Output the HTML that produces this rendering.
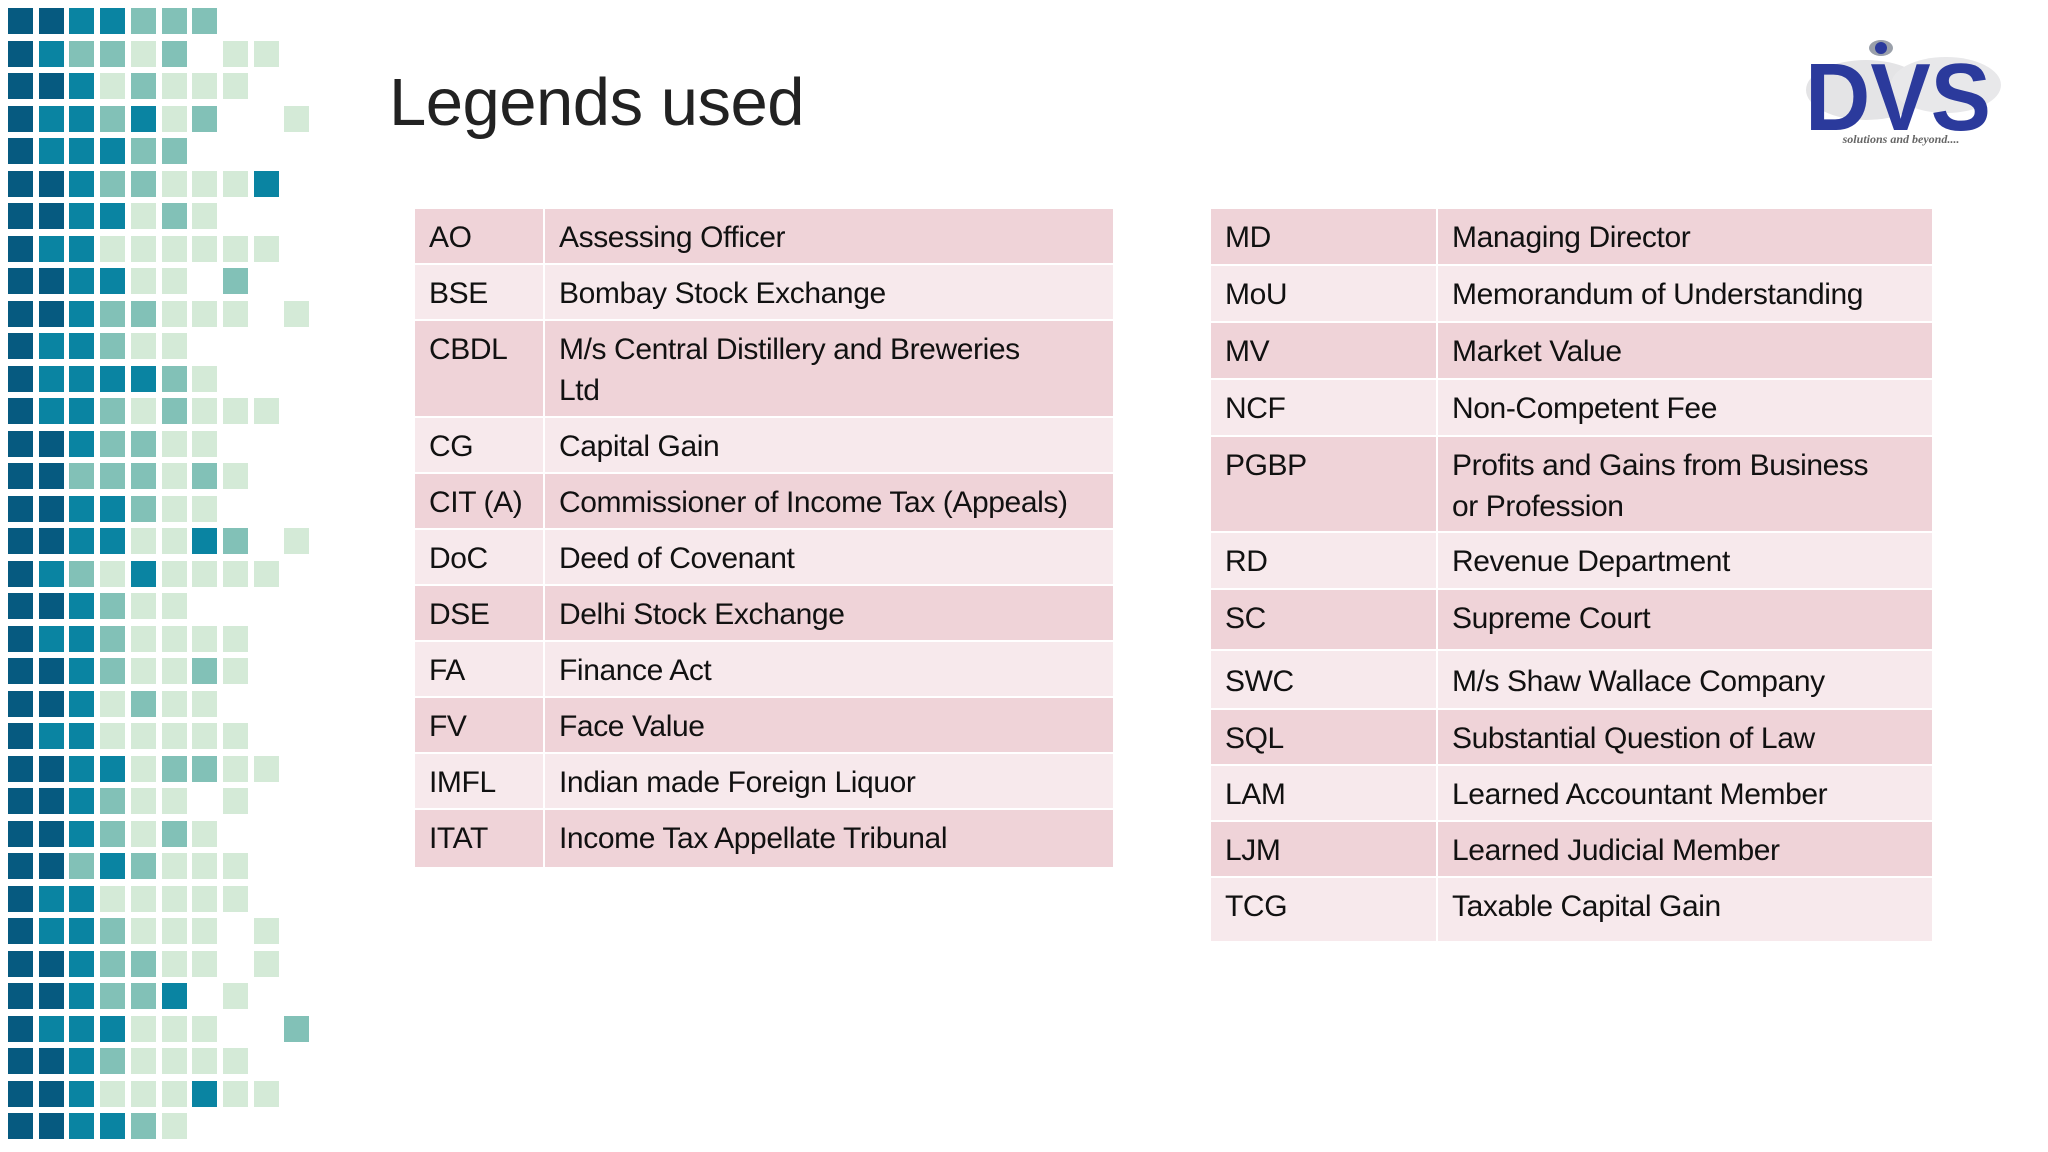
<!DOCTYPE html>
<html><head><meta charset="utf-8">
<style>
body{margin:0;width:2048px;height:1152px;background:#fff;position:relative;overflow:hidden;font-family:"Liberation Sans",sans-serif;}
#mosaic{position:absolute;left:0;top:0;width:330px;height:1152px;}
.cell{position:absolute;width:25px;height:26px;}
h1{position:absolute;left:389px;top:70px;margin:0;font-weight:normal;font-size:67px;line-height:66px;color:#222;letter-spacing:-0.5px;}
.tbl{position:absolute;top:209px;}
.row{display:flex;border-bottom:2px solid #fff;box-sizing:border-box;}
.row:nth-child(odd){background:#efd3d8;}
.row:nth-child(even){background:#f7e9ec;}
.c1,.c2{box-sizing:border-box;padding:8px 0 0 14px;font-size:30px;line-height:41px;color:#111;letter-spacing:-0.4px;}
.c1{border-right:2px solid #fff;}
#logo{position:absolute;left:1786px;top:30px;width:230px;height:120px;}
</style></head>
<body>
<div id="mosaic"></div>
<h1>Legends used</h1>

<div id="logo">
<svg width="230" height="120" viewBox="0 0 230 120">
<ellipse cx="80" cy="60" rx="60" ry="30" fill="#e4e4e6"/>
<ellipse cx="160" cy="55" rx="55" ry="28" fill="#e8e8ea"/>
<ellipse cx="95" cy="18" rx="12" ry="8" fill="#9aa0aa"/>
<ellipse cx="95" cy="18" rx="6" ry="6" fill="#2b3a9c"/>
<text x="112" y="100" text-anchor="middle" font-family="Liberation Sans" font-weight="bold" font-size="96" fill="#2b3a9c" textLength="186" lengthAdjust="spacingAndGlyphs">DVS</text>
<text x="115" y="113" text-anchor="middle" font-family="Liberation Serif" font-style="italic" font-weight="bold" font-size="12" fill="#666">solutions and beyond....</text>
</svg>
</div>

<div class="tbl" style="left:415px;width:698px;">
<div class="row" style="height:56px"><div class="c1" style="width:130px">AO</div><div class="c2">Assessing Officer</div></div>
<div class="row" style="height:56px"><div class="c1" style="width:130px">BSE</div><div class="c2">Bombay Stock Exchange</div></div>
<div class="row" style="height:97px"><div class="c1" style="width:130px">CBDL</div><div class="c2">M/s Central Distillery and Breweries<br>Ltd</div></div>
<div class="row" style="height:56px"><div class="c1" style="width:130px">CG</div><div class="c2">Capital Gain</div></div>
<div class="row" style="height:56px"><div class="c1" style="width:130px">CIT (A)</div><div class="c2">Commissioner of Income Tax (Appeals)</div></div>
<div class="row" style="height:56px"><div class="c1" style="width:130px">DoC</div><div class="c2">Deed of Covenant</div></div>
<div class="row" style="height:56px"><div class="c1" style="width:130px">DSE</div><div class="c2">Delhi Stock Exchange</div></div>
<div class="row" style="height:56px"><div class="c1" style="width:130px">FA</div><div class="c2">Finance Act</div></div>
<div class="row" style="height:56px"><div class="c1" style="width:130px">FV</div><div class="c2">Face Value</div></div>
<div class="row" style="height:56px"><div class="c1" style="width:130px">IMFL</div><div class="c2">Indian made Foreign Liquor</div></div>
<div class="row" style="height:57px;border-bottom:none"><div class="c1" style="width:130px">ITAT</div><div class="c2">Income Tax Appellate Tribunal</div></div>
</div>

<div class="tbl" style="left:1211px;width:721px;">
<div class="row" style="height:57px"><div class="c1" style="width:227px">MD</div><div class="c2">Managing Director</div></div>
<div class="row" style="height:57px"><div class="c1" style="width:227px">MoU</div><div class="c2">Memorandum of Understanding</div></div>
<div class="row" style="height:57px"><div class="c1" style="width:227px">MV</div><div class="c2">Market Value</div></div>
<div class="row" style="height:57px"><div class="c1" style="width:227px">NCF</div><div class="c2">Non-Competent Fee</div></div>
<div class="row" style="height:96px"><div class="c1" style="width:227px">PGBP</div><div class="c2">Profits and Gains from Business<br>or Profession</div></div>
<div class="row" style="height:57px"><div class="c1" style="width:227px">RD</div><div class="c2">Revenue Department</div></div>
<div class="row" style="height:61px"><div class="c1" style="width:227px">SC</div><div class="c2">Supreme Court</div></div>
<div class="row" style="height:59px"><div class="c1" style="width:227px;padding-top:10px">SWC</div><div class="c2" style="padding-top:10px">M/s Shaw Wallace Company</div></div>
<div class="row" style="height:56px"><div class="c1" style="width:227px">SQL</div><div class="c2">Substantial Question of Law</div></div>
<div class="row" style="height:56px"><div class="c1" style="width:227px">LAM</div><div class="c2">Learned Accountant Member</div></div>
<div class="row" style="height:56px"><div class="c1" style="width:227px">LJM</div><div class="c2">Learned Judicial Member</div></div>
<div class="row" style="height:63px;border-bottom:none"><div class="c1" style="width:227px">TCG</div><div class="c2">Taxable Capital Gain</div></div>
</div>

<script>
const mosaicRows = [
"DDBBTTT...","DBTTPT.PP.","DDBPTPPP..","DBBTBPT..P","DBBBTT....",
"DDBTTPPPB.","DDBBPTP...","DBBPPPPPP.","DDBBPP.T..","DDBTTPPP.P",
"DBBTPP....","DBBBBTP...","DBBTPTPPP.","DDBTTPP...","DDTTTPTP..",
"DDBBTPP...","DDBBPPBT.P","DBTPBPPPP.","DDBTPP....","DBBTPPPP..",
"DDBTPPTP..","DDBPTPP...","DBBPPPPP..","DDBBPTTPP.","DDBTPP.P..",
"DDBTPTP...","DDTBTPPP..","DBBPPPPP..","DBBTPPP.P.","DDBTTPP.P.",
"DDBTTB.P..","DBBBPPP..T","DDBTPPPP..","DDBPPPBPP.","DDBBTP...."
];
const colors = {D:"#065a80",B:"#0a84a2",T:"#82c1b7",P:"#d4ead7"};
const m = document.getElementById('mosaic');
mosaicRows.forEach((r,ri)=>{
  for(let ci=0;ci<r.length;ci++){
    const ch=r[ci]; if(ch==='.') continue;
    const d=document.createElement('div');
    d.className='cell';
    d.style.left=(8+ci*30.7)+'px';
    d.style.top=(8+ri*32.5)+'px';
    d.style.background=colors[ch];
    
    
    m.appendChild(d);
  }
});
</script>
</body></html>
